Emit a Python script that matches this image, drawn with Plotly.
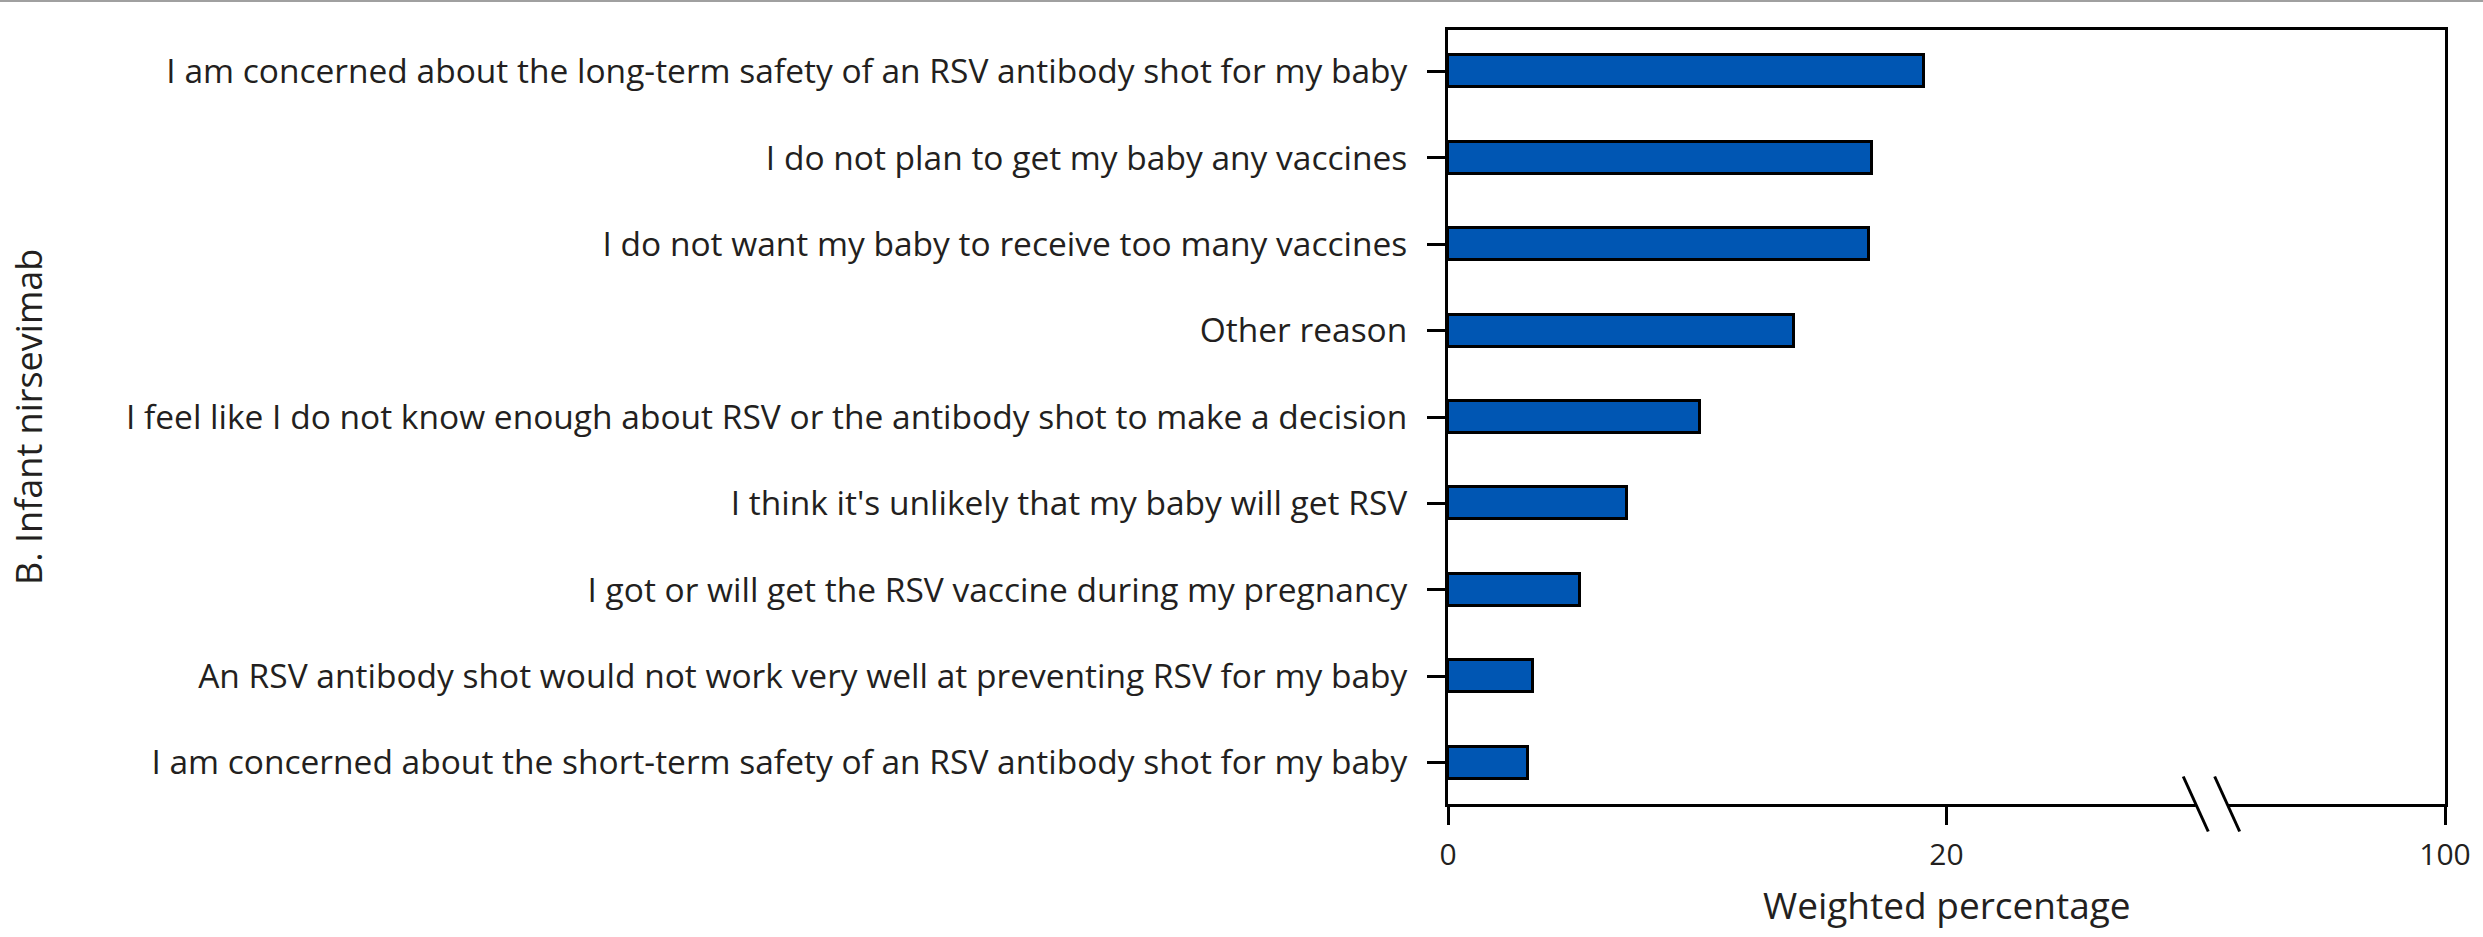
import plotly.graph_objects as go

categories = [
    "I am concerned about the long-term safety of an RSV antibody shot for my baby",
    "I do not plan to get my baby any vaccines",
    "I do not want my baby to receive too many vaccines",
    "Other reason",
    "I feel like I do not know enough about RSV or the antibody shot to make a decision",
    "I think it's unlikely that my baby will get RSV",
    "I got or will get the RSV vaccine during my pregnancy",
    "An RSV antibody shot would not work very well at preventing RSV for my baby",
    "I am concerned about the short-term safety of an RSV antibody shot for my baby",
]
values = [19.1, 17.0, 16.9, 13.9, 10.1, 7.2, 5.3, 3.4, 3.2]

tick_vals = [0, 20, 40]
tick_text = ["0", "20", "100"]
break_at = [30.0, 31.26]

W, H = 2483, 937
L, R, T, B = 1448, 34, 30, 133
FONT = "Open Sans"
TXT = "#231f20"

fig = go.Figure()
fig.add_trace(go.Bar(
    x=values, y=categories, orientation="h", width=0.37,
    marker=dict(color="#0056b3", line=dict(color="black", width=3)),
    showlegend=False,
))

fig.update_layout(
    width=W, height=H,
    margin=dict(l=L, r=R, t=T, b=B),
    paper_bgcolor="white", plot_bgcolor="white",
    font=dict(family=FONT, color=TXT),
    bargap=0,
)
fig.update_xaxes(
    range=[0, 40], tickvals=tick_vals, ticktext=tick_text,
    showline=True, linecolor="black", linewidth=3, mirror=True,
    ticks="outside", ticklen=18, tickwidth=3, tickcolor="black",
    showgrid=False, zeroline=False,
    tickfont=dict(size=30, family=FONT, color=TXT),
    ticklabelstandoff=4,
)
fig.update_yaxes(
    categoryorder="array", categoryarray=categories,
    range=[8.48, -0.48],
    showline=True, linecolor="black", linewidth=3, mirror=True,
    ticks="outside", ticklen=18, tickwidth=3, tickcolor="black",
    showgrid=False, zeroline=False,
    tickfont=dict(size=33.5, family=FONT, color=TXT),
    ticklabelstandoff=13,
)

# axis titles as annotations
fig.add_annotation(text="Weighted percentage", xref="paper", yref="paper",
                   x=0.5, y=0, yshift=-100, xanchor="center", yanchor="middle",
                   showarrow=False, font=dict(size=37, family=FONT, color=TXT))
fig.add_annotation(text="B. Infant nirsevimab", xref="paper", yref="paper",
                   x=0, y=0.5, xshift=28 - L, xanchor="center", yanchor="middle",
                   textangle=-90, showarrow=False,
                   font=dict(size=36, family=FONT, color=TXT))

# axis break: white gap plus two slashes
fig.add_shape(type="rect", xref="x", x0=break_at[0], x1=break_at[1],
              yref="paper", ysizemode="pixel", yanchor=0, y0=-4, y1=4,
              fillcolor="white", line=dict(width=0), layer="above")
for xb in break_at:
    fig.add_shape(type="line", xref="x", xsizemode="pixel", xanchor=xb,
                  x0=-12.5, x1=12.5, yref="paper", ysizemode="pixel", yanchor=0,
                  y0=27.5, y1=-27.5, line=dict(color="black", width=3),
                  layer="above")

# thin grey rule at the top of the page
fig.add_shape(type="line", xref="paper", xsizemode="pixel", xanchor=0,
              x0=-L, x1=W - L, yref="paper", ysizemode="pixel", yanchor=1,
              y0=T - 1, y1=T - 1, line=dict(color="#a0a0a0", width=2))

fig.write_html("out.html",
               config={"displayModeBar": False},
               post_script="document.body.style.margin='0';document.body.style.overflow='hidden';")
